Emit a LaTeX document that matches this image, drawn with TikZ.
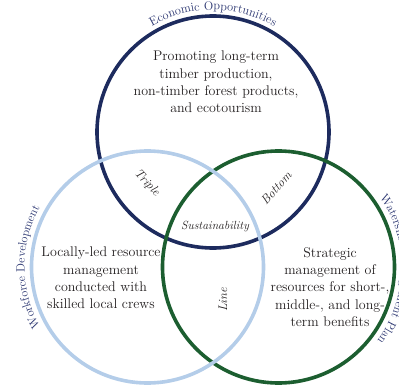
\documentclass[tikz,border=0pt]{standalone}
\usetikzlibrary{decorations.text}
\definecolor{navyc}{HTML}{1D2B5E}
\definecolor{bluec}{HTML}{B4CDE9}
\definecolor{greenc}{HTML}{1C5E30}
\definecolor{labc}{HTML}{2A3570}
\definecolor{txtc}{HTML}{231F20}
\begin{document}
\begin{tikzpicture}[x=1pt,y=1pt,
  ring/.style={line width=3.6pt},
  body/.style={text=txtc, align=center, font=\fontsize{14}{17.4}\selectfont, inner sep=0pt},
  tag/.style={text=txtc, font=\fontsize{12.5}{14}\selectfont\itshape, inner sep=0pt},
  arclabel/.style={decorate, decoration={text along path, text align=center, text color=labc}}]
\useasboundingbox (0,0) rectangle (399,-388);
\clip (0,0) rectangle (399,-388);
\coordinate (cE) at (213,-132);
\coordinate (cW) at (147.5,-267);
\coordinate (cG) at (278.5,-267);
\draw[ring, navyc] (cE) circle (116);
\draw[ring, greenc] (cG) circle (116);
\draw[ring, bluec] (cW) circle (116);
\path[arclabel, decoration={text={|\fontsize{12.3}{12}\selectfont|Economic Opportunities}}] (cE) ++(150:122) arc (150:30:122);
\path[arclabel, decoration={text={|\fontsize{12}{12}\selectfont|Workforce Development}}] (cW) ++(225:123) arc (225:135:123);
\path[arclabel, decoration={text={|\fontsize{12}{12}\selectfont|Watershed Management Plan}}] (cG) ++(61:123) arc (61:-63:123);
\node[body] (econ) at (216,-82) {Promoting long-term\\timber production,\\non-timber forest products,\\and ecotourism};
\node[body] (work) at (101,-278) {Locally-led resource\\management\\conducted with\\skilled local crews};
\node[body] (strat) at (330,-287) {Strategic\\management of\\resources for short-,\\middle-, and long-\\term benefits};
\node[tag, rotate=-47] (triple) at (147,-183) {Triple};
\node[tag, rotate=48] (bottom) at (276,-188) {Bottom};
\node[tag, font=\fontsize{11.8}{13}\selectfont\itshape] (sus) at (215,-227) {Sustainability};
\node[tag, rotate=90] (line) at (223,-300) {Line};
\end{tikzpicture}
\end{document}
